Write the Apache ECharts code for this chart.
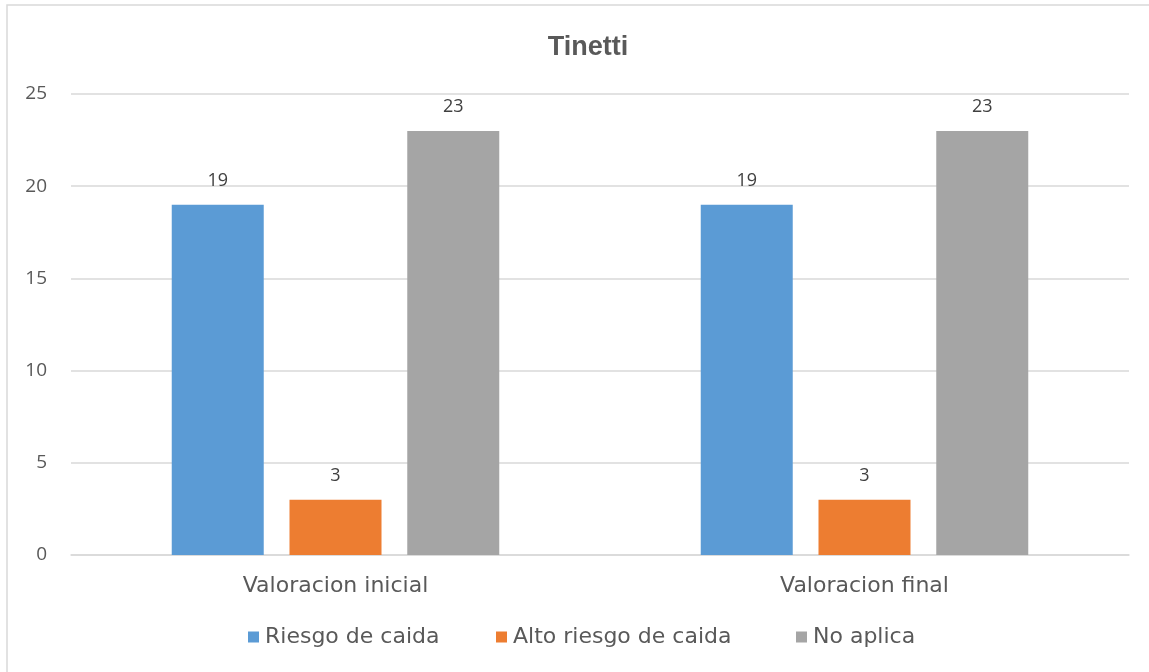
<!DOCTYPE html>
<html><head><meta charset="utf-8">
<script src="https://cdn.jsdelivr.net/npm/echarts@6/dist/echarts.min.js"></script>
<style>html,body{margin:0;padding:0;background:#fff}#c{width:1149px;height:672px}</style>
</head><body><div id="c"></div>
<script>
const categories = ['Valoracion inicial', 'Valoracion final'];
const riesgo = [19, 19];
const altoRiesgo = [3, 3];
const noAplica = [23, 23];
const seriesNames = ['Riesgo de caida', 'Alto riesgo de caida', 'No aplica'];
const colors = ['#5B9BD5', '#ED7D31', '#A5A5A5'];
const legendLefts = [248, 496, 796];

const chart = echarts.init(document.getElementById('c'));
const lbl = {show: true, position: 'top', distance: 15, color: '#404040', fontSize: 18, fontFamily: 'Open Sans'};
function s(name, data, color) {
  return {name, type: 'bar', data, barWidth: 92, barGap: '28%', itemStyle: {color}, label: lbl};
}
chart.setOption({
  animation: false,
  graphic: [{type: 'rect', shape: {x: 7, y: 5, width: 1160, height: 700}, style: {fill: 'none', stroke: '#d9d9d9', lineWidth: 1.5}}],
  title: {text: 'Tinetti', left: 583, textAlign: 'center', top: 29, textStyle: {fontSize: 27, fontWeight: 'bold', color: '#595959', fontFamily: 'Liberation Sans'}},
  legend: seriesNames.map((n, i) => ({
    data: [n], left: legendLefts[i], top: 626, itemWidth: 11, itemHeight: 11, icon: 'rect', padding: 0,
    textStyle: {fontSize: 22, color: '#595959', fontFamily: 'DejaVu Sans', padding: [0, 0, 0, 1]}
  })),
  grid: {left: 71, right: 20, top: 94, bottom: 117},
  xAxis: {type: 'category', data: categories,
    axisLine: {lineStyle: {color: '#d9d9d9', width: 1.5}}, axisTick: {show: false},
    axisLabel: {fontSize: 22, color: '#595959', margin: 20, fontFamily: 'DejaVu Sans'}},
  yAxis: {type: 'value', min: 0, max: 25, interval: 5,
    axisLine: {show: false}, axisTick: {show: false},
    splitLine: {lineStyle: {color: '#d9d9d9', width: 1.5}},
    axisLabel: {fontSize: 19, color: '#595959', margin: 24, fontFamily: 'Open Sans'}},
  series: [s(seriesNames[0], riesgo, colors[0]), s(seriesNames[1], altoRiesgo, colors[1]), s(seriesNames[2], noAplica, colors[2])]
});
</script></body></html>
